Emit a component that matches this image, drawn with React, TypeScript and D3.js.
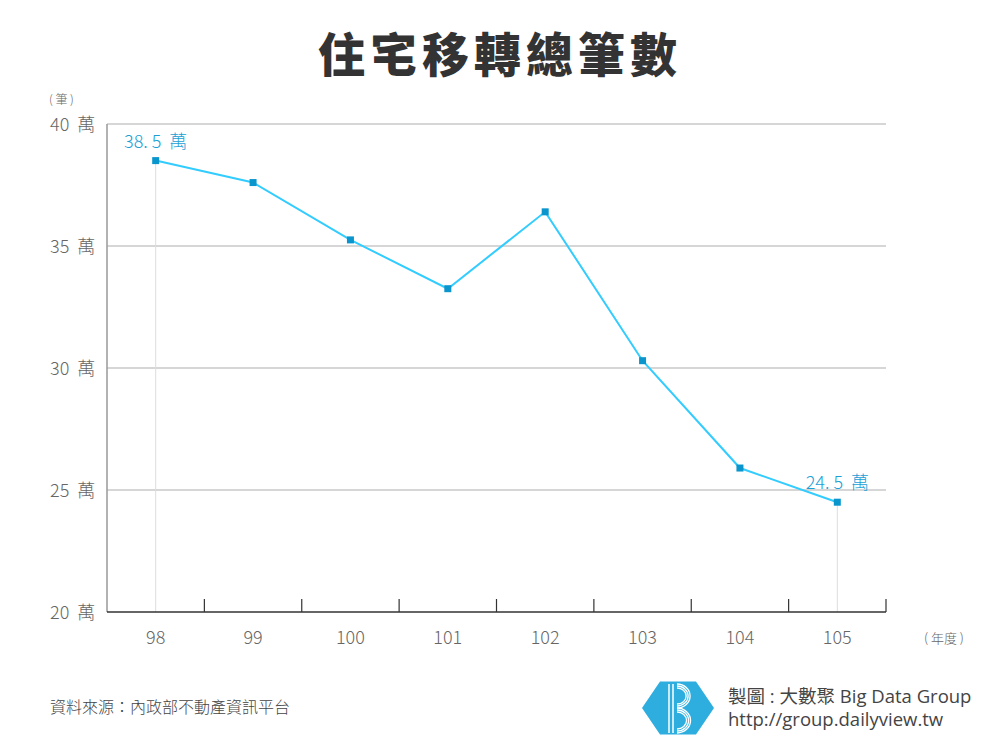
import React from "react";
import * as d3 from "d3";

const years = ["98", "99", "100", "101", "102", "103", "104", "105"];
const values = [38.5, 37.6, 35.25, 33.25, 36.4, 30.3, 25.9, 24.5];
const yTicks = [20, 25, 30, 35, 40];
const labeledIdx = [0, 7];

const W = 1000, H = 750;
const left = 107, right = 886, top = 124, bottom = 612;
const FONT = "'Noto Sans CJK TC', 'Noto Sans', sans-serif";
const CREDIT_FONT = "'Open Sans', 'Noto Sans CJK TC', sans-serif";

export default function App() {
  const x = d3.scaleBand<string>().domain(years).range([left, right]).padding(0);
  const y = d3.scaleLinear().domain([20, 40]).range([bottom, top]);
  const cx = (d: string) => (x(d) as number) + x.bandwidth() / 2;
  const line = d3.line<number>().x((_, i) => cx(years[i])).y((v) => y(v));
  const bounds = years.map((d) => (x(d) as number) + x.bandwidth());

  // hexagon logo
  const hx = 678, hy = 708, hr = 36;
  const hex = d3.range(6).map((i) => {
    const a = (Math.PI / 3) * i;
    return [hx + hr * Math.cos(a), hy + hr * 0.85 * Math.sin(a)];
  });

  return (
    <svg width={W} height={H} style={{ position: "absolute", left: 0, top: 0, background: "#fff" }}>
      <rect width={W} height={H} fill="#fff" />
      <text x={500} y={72} textAnchor="middle" fontFamily={FONT} fontWeight={900} fontSize={47} fill="#333" letterSpacing={5}>
        住宅移轉總筆數
      </text>
      <text x={49} y={104} fontFamily={FONT} fontWeight={300} fontSize={12} fill="#666" style={{ whiteSpace: "pre" }}>( 筆 )</text>

      {yTicks.map((t) => (
        <g key={t}>
          {t > 20 && <line x1={left} x2={right} y1={y(t)} y2={y(t)} stroke="#c8c8c8" strokeWidth={1.5} />}
          <text x={50} y={y(t) + 7} fontFamily={FONT} fontWeight={300} fontSize={18} fill="#666" style={{ whiteSpace: "pre" }}>{`${t}  萬`}</text>
        </g>
      ))}

      {/* left axis */}
      <line x1={left} x2={left} y1={top} y2={bottom} stroke="#999" strokeWidth={1.5} />

      {/* drop lines */}
      {labeledIdx.map((i) => (
        <line key={i} x1={cx(years[i])} x2={cx(years[i])} y1={y(values[i])} y2={bottom} stroke="#ddd" strokeWidth={1} />
      ))}

      {/* bottom axis */}
      <line x1={left} x2={right} y1={bottom} y2={bottom} stroke="#333" strokeWidth={1.5} />
      {bounds.map((b, i) => (
        <line key={i} x1={b} x2={b} y1={bottom} y2={bottom - 13} stroke="#333" strokeWidth={1.2} />
      ))}
      {years.map((d) => (
        <text key={d} x={cx(d)} y={644} textAnchor="middle" fontFamily={FONT} fontWeight={300} fontSize={18} fill="#666">{d}</text>
      ))}
      <text x={944} y={643} textAnchor="middle" fontFamily={FONT} fontWeight={300} fontSize={13} fill="#666" style={{ whiteSpace: "pre" }}>( 年度 )</text>

      <path d={line(values) as string} fill="none" stroke="#33ccff" strokeWidth={2} />
      {values.map((v, i) => (
        <rect key={i} x={cx(years[i]) - 3.5} y={y(v) - 3.5} width={7} height={7} fill="#0a96cc" />
      ))}
      {labeledIdx.map((i) => (
        <text key={i} x={cx(years[i])} y={y(values[i]) - 13} textAnchor="middle" fontFamily={FONT} fontWeight={300} fontSize={18} fill="#1a9fd6" style={{ whiteSpace: "pre" }}>
          {`${values[i].toFixed(1).replace(".", ". ")}  萬`}
        </text>
      ))}

      <text x={50} y={713} fontFamily={FONT} fontWeight={300} fontSize={16} fill="#444">資料來源：內政部不動產資訊平台</text>

      {/* logo */}
      <polygon points={hex.map((p) => p.join(",")).join(" ")} fill="#2eaedf" />
      <line x1={669} x2={669} y1={684} y2={733} stroke="#fff" strokeWidth={1.5} />
      <line x1={673} x2={673} y1={684} y2={733} stroke="#fff" strokeWidth={1.5} />
      {[0, 4, 8].map((o) => (
        <g key={o}>
          <path d={`M${677},${684 + o / 2} A ${12 - o / 2} ${11 - o / 2} 0 0 1 ${677},${708 - o / 2}`} fill="none" stroke="#fff" strokeWidth={1.3} />
          <path d={`M${677},${708 + o / 2} A ${13 - o / 2} ${12 - o / 2} 0 0 1 ${677},${733 - o / 2}`} fill="none" stroke="#fff" strokeWidth={1.3} />
        </g>
      ))}
      <text x={728} y={703} fontFamily={CREDIT_FONT} fontWeight={400} fontSize={18.5} fill="#444">製圖 : 大數聚 Big Data Group</text>
      <text x={728} y={726} fontFamily={CREDIT_FONT} fontWeight={400} fontSize={18.5} fill="#444">http://group.dailyview.tw</text>
    </svg>
  );
}
